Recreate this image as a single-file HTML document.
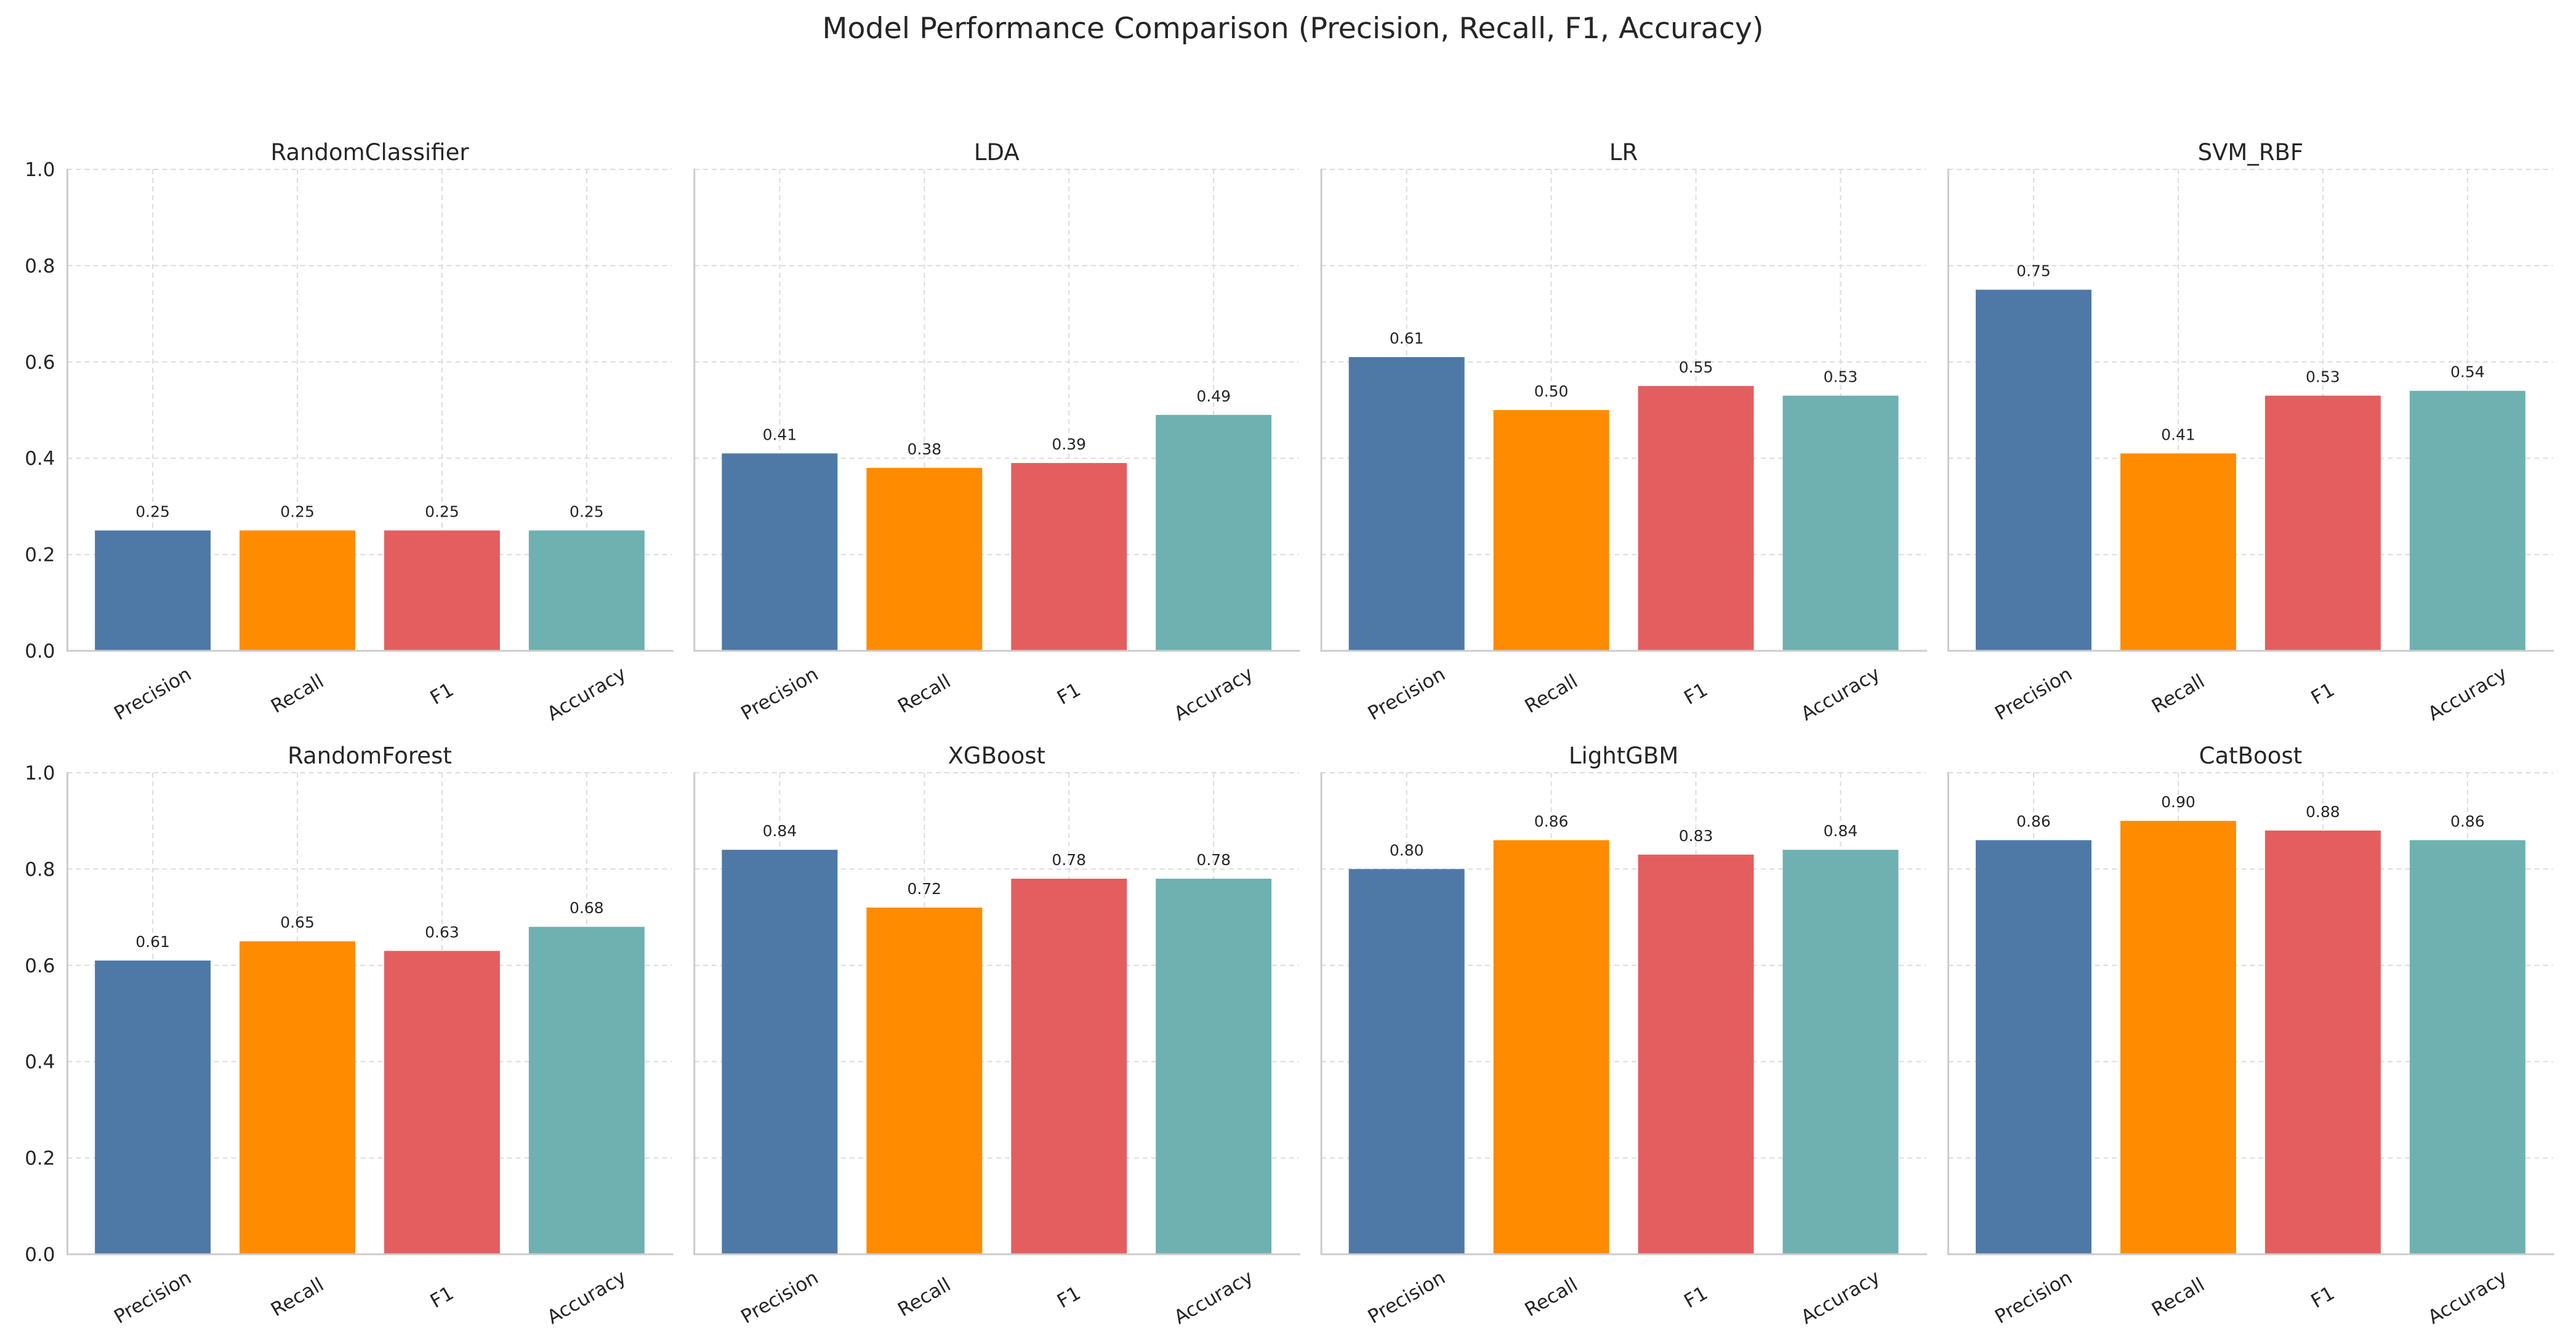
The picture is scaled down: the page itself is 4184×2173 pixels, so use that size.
<!DOCTYPE html>
<html><head><meta charset="utf-8"><style>
html,body{margin:0;padding:0;background:#fff;}
svg{display:block;font-family:"DejaVu Sans","Liberation Sans",sans-serif;}
</style></head><body>
<svg id="fig" width="4184" height="2173" viewBox="0 0 4184 2173" xmlns="http://www.w3.org/2000/svg">
<rect width="4184" height="2173" fill="#ffffff"/>
<text x="2100" y="62" font-size="47.5" text-anchor="middle" fill="#262626">Model Performance Comparison (Precision, Recall, F1, Accuracy)</text>
<g id="panels"></g>
</svg>
<script>
const models = ["RandomClassifier","LDA","LR","SVM_RBF","RandomForest","XGBoost","LightGBM","CatBoost"];
const metrics = ["Precision","Recall","F1","Accuracy"];
const precisionVals = [0.25,0.41,0.61,0.75,0.61,0.84,0.80,0.86];
const recallVals = [0.25,0.38,0.50,0.41,0.65,0.72,0.86,0.90];
const f1Vals = [0.25,0.39,0.55,0.53,0.63,0.78,0.83,0.88];
const accuracyVals = [0.25,0.49,0.53,0.54,0.68,0.78,0.84,0.86];
const yTicks = [0,0.2,0.4,0.6,0.8,1.0];
const yTickLabels = ["0.0","0.2","0.4","0.6","0.8","1.0"];

const colors = ["#4e79a7","#ff8c00","#e45e5f","#6eb1b0"];
const series = [precisionVals, recallVals, f1Vals, accuracyVals];
const NS = "http://www.w3.org/2000/svg";
const root = document.getElementById("panels");
const panelLeft0 = 109.5, panelStep = 1018.3, panelW = 982;
const rowTop = [275, 1255], rowBottom = [1057, 2037];
const xMin = -0.59, xMax = 3.59;

function mk(tag, attrs, parent){
  const e = document.createElementNS(NS, tag);
  for (const k in attrs) e.setAttribute(k, attrs[k]);
  parent.appendChild(e);
  return e;
}

models.forEach((m, mi) => {
  const row = Math.floor(mi / 4), col = mi % 4;
  const L = panelLeft0 + col * panelStep, R = L + panelW;
  const T = rowTop[row], B = rowBottom[row];
  const xs = v => L + (v - xMin) / (xMax - xMin) * panelW;
  const ys = v => B - v * (B - T);
  const g = mk("g", {}, root);
  
  

  yTicks.forEach((t, ti) => {
    const ln = mk("line", {x1:L, x2:R, y1:ys(t), y2:ys(t), stroke:"#dcdcdc", "stroke-width":2, "stroke-dasharray":"8,6"}, g);
    
    
    if (col === 0) {
      const tx = mk("text", {x:L-20, y:ys(t)+11, "font-size":31, "text-anchor":"end", fill:"#262626"}, g);
      tx.textContent = yTickLabels[ti];
      
      
    }
  });
  metrics.forEach((c, ci) => {
    const ln = mk("line", {x1:xs(ci), x2:xs(ci), y1:T, y2:B, stroke:"#dcdcdc", "stroke-width":2, "stroke-dasharray":"8,6"}, g);
    
    
  });

  metrics.forEach((c, ci) => {
    const v = series[ci][mi];
    const bx0 = xs(ci - 0.4), bx1 = xs(ci + 0.4);
    const r = mk("rect", {x:bx0, y:ys(v), width:bx1-bx0, height:ys(0)-ys(v), fill:colors[ci]}, g);
    
    
    const lb = mk("text", {x:xs(ci), y:ys(v)-22, "font-size":25, "text-anchor":"middle", fill:"#262626"}, g);
    lb.textContent = v.toFixed(2);
    
    
    const cx = xs(ci), cy = B + 70;
    const tl = mk("text", {x:cx, y:cy, "font-size":31, "text-anchor":"middle", "dominant-baseline":"central", fill:"#262626", transform:`rotate(-30 ${cx} ${cy})`}, g);
    tl.textContent = c;
    
    
  });

  const sl = mk("line", {x1:L, x2:L, y1:T-1, y2:B+1.5, stroke:"#cccccc", "stroke-width":3}, g);
  
  
  const sb = mk("line", {x1:L-1.5, x2:R+2, y1:B, y2:B, stroke:"#cccccc", "stroke-width":3}, g);
  
  

  const tt = mk("text", {x:(L+R)/2, y:T-15, "font-size":37, "text-anchor":"middle", fill:"#262626"}, g);
  tt.textContent = m;
  
  
});
</script>
</body></html>
